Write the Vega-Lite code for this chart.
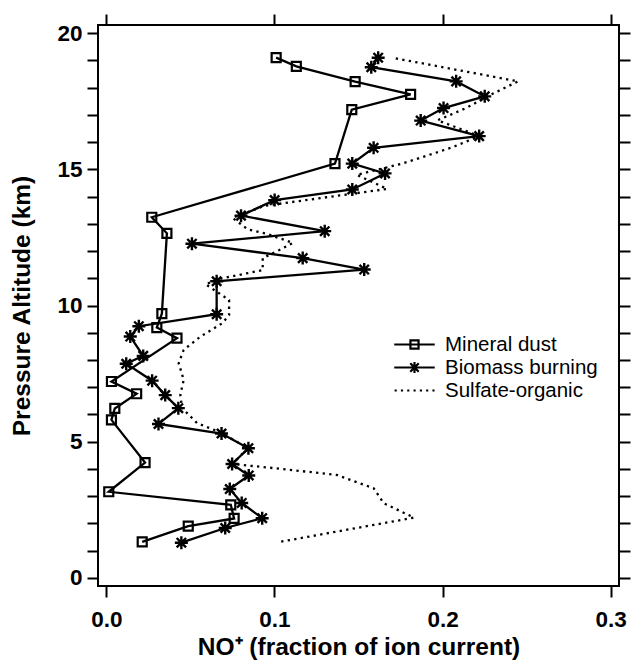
{
  "$schema": "https://vega.github.io/schema/vega-lite/v6.json",
  "autosize": {"type": "none"},
  "padding": {"left": 98, "top": 25, "right": 13, "bottom": 79},
  "width": 521,
  "height": 561,
  "background": "white",
  "config": {
    "view": {"stroke": "black", "strokeWidth": 2},
    "font": "Liberation Sans",
    "axis": {
      "domain": false, "grid": false,
      "tickColor": "black", "tickWidth": 2, "tickSize": 11,
      "labelColor": "black", "labelFont": "Liberation Sans", "labelFontWeight": "bold", "labelFontSize": 22.5,
      "titleColor": "black", "titleFont": "Liberation Sans", "titleFontWeight": "bold", "titleFontSize": 24.5
    },
    "legend": {
      "orient": "none", "legendX": 306, "legendY": 309, "padding": 0,
      "labelFont": "Liberation Sans", "labelFontSize": 20.5, "labelColor": "black", "labelFontWeight": "normal",
      "symbolSize": 324, "symbolStrokeWidth": 2.2, "symbolStrokeColor": "black", "symbolFillColor": "transparent",
      "labelOffset": 20, "rowPadding": 2
    }
  },
  "datasets": {
    "profiles": [
      {"series": "Mineral dust", "no": 0.101, "alt": 19.1},
      {"series": "Mineral dust", "no": 0.113, "alt": 18.78},
      {"series": "Mineral dust", "no": 0.148, "alt": 18.22},
      {"series": "Mineral dust", "no": 0.181, "alt": 17.75},
      {"series": "Mineral dust", "no": 0.146, "alt": 17.19},
      {"series": "Mineral dust", "no": 0.136, "alt": 15.21},
      {"series": "Mineral dust", "no": 0.027, "alt": 13.24},
      {"series": "Mineral dust", "no": 0.036, "alt": 12.65},
      {"series": "Mineral dust", "no": 0.033, "alt": 9.7},
      {"series": "Mineral dust", "no": 0.030, "alt": 9.19},
      {"series": "Mineral dust", "no": 0.042, "alt": 8.8},
      {"series": "Mineral dust", "no": 0.003, "alt": 7.21},
      {"series": "Mineral dust", "no": 0.018, "alt": 6.76},
      {"series": "Mineral dust", "no": 0.005, "alt": 6.22},
      {"series": "Mineral dust", "no": 0.003, "alt": 5.8},
      {"series": "Mineral dust", "no": 0.023, "alt": 4.23},
      {"series": "Mineral dust", "no": 0.0014, "alt": 3.16},
      {"series": "Mineral dust", "no": 0.074, "alt": 2.68},
      {"series": "Mineral dust", "no": 0.076, "alt": 2.18},
      {"series": "Mineral dust", "no": 0.0487, "alt": 1.9},
      {"series": "Mineral dust", "no": 0.0213, "alt": 1.32},
      {"series": "Biomass burning", "no": 0.1617, "alt": 19.1},
      {"series": "Biomass burning", "no": 0.1576, "alt": 18.75},
      {"series": "Biomass burning", "no": 0.2081, "alt": 18.23},
      {"series": "Biomass burning", "no": 0.2251, "alt": 17.68},
      {"series": "Biomass burning", "no": 0.2006, "alt": 17.25},
      {"series": "Biomass burning", "no": 0.187, "alt": 16.79},
      {"series": "Biomass burning", "no": 0.2218, "alt": 16.22},
      {"series": "Biomass burning", "no": 0.159, "alt": 15.79},
      {"series": "Biomass burning", "no": 0.1463, "alt": 15.21},
      {"series": "Biomass burning", "no": 0.1658, "alt": 14.85},
      {"series": "Biomass burning", "no": 0.1463, "alt": 14.26},
      {"series": "Biomass burning", "no": 0.1001, "alt": 13.87},
      {"series": "Biomass burning", "no": 0.0801, "alt": 13.3},
      {"series": "Biomass burning", "no": 0.1299, "alt": 12.73},
      {"series": "Biomass burning", "no": 0.0509, "alt": 12.27},
      {"series": "Biomass burning", "no": 0.1168, "alt": 11.74},
      {"series": "Biomass burning", "no": 0.1534, "alt": 11.32},
      {"series": "Biomass burning", "no": 0.0656, "alt": 10.89},
      {"series": "Biomass burning", "no": 0.0656, "alt": 9.68},
      {"series": "Biomass burning", "no": 0.0193, "alt": 9.24},
      {"series": "Biomass burning", "no": 0.0142, "alt": 8.86},
      {"series": "Biomass burning", "no": 0.0219, "alt": 8.15},
      {"series": "Biomass burning", "no": 0.0118, "alt": 7.86},
      {"series": "Biomass burning", "no": 0.0272, "alt": 7.24},
      {"series": "Biomass burning", "no": 0.035, "alt": 6.71},
      {"series": "Biomass burning", "no": 0.0428, "alt": 6.23},
      {"series": "Biomass burning", "no": 0.031, "alt": 5.65},
      {"series": "Biomass burning", "no": 0.0685, "alt": 5.3},
      {"series": "Biomass burning", "no": 0.0845, "alt": 4.76},
      {"series": "Biomass burning", "no": 0.0748, "alt": 4.18},
      {"series": "Biomass burning", "no": 0.0847, "alt": 3.76},
      {"series": "Biomass burning", "no": 0.0734, "alt": 3.26},
      {"series": "Biomass burning", "no": 0.0805, "alt": 2.75},
      {"series": "Biomass burning", "no": 0.0927, "alt": 2.19},
      {"series": "Biomass burning", "no": 0.0707, "alt": 1.83},
      {"series": "Biomass burning", "no": 0.0446, "alt": 1.29},
      {"series": "Sulfate-organic", "no": 0.170, "alt": 19.1},
      {"series": "Sulfate-organic", "no": 0.245, "alt": 18.23},
      {"series": "Sulfate-organic", "no": 0.229, "alt": 17.75},
      {"series": "Sulfate-organic", "no": 0.214, "alt": 17.25},
      {"series": "Sulfate-organic", "no": 0.197, "alt": 16.8},
      {"series": "Sulfate-organic", "no": 0.222, "alt": 16.22},
      {"series": "Sulfate-organic", "no": 0.205, "alt": 15.79},
      {"series": "Sulfate-organic", "no": 0.176, "alt": 15.21},
      {"series": "Sulfate-organic", "no": 0.149, "alt": 14.8},
      {"series": "Sulfate-organic", "no": 0.167, "alt": 14.28},
      {"series": "Sulfate-organic", "no": 0.094, "alt": 13.66},
      {"series": "Sulfate-organic", "no": 0.075, "alt": 13.22},
      {"series": "Sulfate-organic", "no": 0.084, "alt": 12.8},
      {"series": "Sulfate-organic", "no": 0.095, "alt": 12.64},
      {"series": "Sulfate-organic", "no": 0.111, "alt": 12.3},
      {"series": "Sulfate-organic", "no": 0.103, "alt": 12.04},
      {"series": "Sulfate-organic", "no": 0.093, "alt": 11.74},
      {"series": "Sulfate-organic", "no": 0.093, "alt": 11.3},
      {"series": "Sulfate-organic", "no": 0.069, "alt": 11.0},
      {"series": "Sulfate-organic", "no": 0.059, "alt": 10.78},
      {"series": "Sulfate-organic", "no": 0.067, "alt": 10.45},
      {"series": "Sulfate-organic", "no": 0.073, "alt": 10.2},
      {"series": "Sulfate-organic", "no": 0.073, "alt": 9.65},
      {"series": "Sulfate-organic", "no": 0.069, "alt": 9.35},
      {"series": "Sulfate-organic", "no": 0.056, "alt": 8.86},
      {"series": "Sulfate-organic", "no": 0.046, "alt": 8.37},
      {"series": "Sulfate-organic", "no": 0.043, "alt": 7.88},
      {"series": "Sulfate-organic", "no": 0.046, "alt": 7.27},
      {"series": "Sulfate-organic", "no": 0.044, "alt": 6.72},
      {"series": "Sulfate-organic", "no": 0.045, "alt": 6.23},
      {"series": "Sulfate-organic", "no": 0.054, "alt": 5.68},
      {"series": "Sulfate-organic", "no": 0.069, "alt": 5.31},
      {"series": "Sulfate-organic", "no": 0.084, "alt": 4.76},
      {"series": "Sulfate-organic", "no": 0.075, "alt": 4.18},
      {"series": "Sulfate-organic", "no": 0.101, "alt": 4.02},
      {"series": "Sulfate-organic", "no": 0.137, "alt": 3.78},
      {"series": "Sulfate-organic", "no": 0.159, "alt": 3.29},
      {"series": "Sulfate-organic", "no": 0.165, "alt": 2.74},
      {"series": "Sulfate-organic", "no": 0.183, "alt": 2.21},
      {"series": "Sulfate-organic", "no": 0.104, "alt": 1.33}
    ]
  },
  "data": {"name": "profiles"},
  "resolve": {"axis": {"x": "independent", "y": "independent"}},
  "layer": [
    {
      "transform": [{"filter": "datum.series === 'Sulfate-organic'"}],
      "mark": {"type": "line", "color": "black", "strokeWidth": 2.3, "strokeDash": [2.3, 4.3]},
      "encoding": {
        "x": {"field": "no", "type": "quantitative", "scale": {"domain": [-0.005, 0.305], "nice": false, "zero": false},
              "axis": {"orient": "bottom", "values": [0, 0.1, 0.2, 0.3], "format": ".1f", "labelPadding": 11, "title": "NO⁺ (fraction of ion current)", "titlePadding": 5}},
        "y": {"field": "alt", "type": "quantitative", "scale": {"domain": [-0.3, 20.3], "nice": false, "zero": false},
              "axis": {"orient": "left", "values": [0,1,2,3,4,5,6,7,8,9,10,11,12,13,14,15,16,17,18,19,20], "labelExpr": "datum.value % 5 === 0 ? datum.label : ''", "labelPadding": 5, "title": "Pressure Altitude (km)", "titlePadding": 22}},
        "order": {"field": "alt", "type": "quantitative"}
      }
    },
    {
      "transform": [{"filter": "datum.series === 'Mineral dust'"}],
      "mark": {"type": "line", "color": "black", "strokeWidth": 2.3},
      "encoding": {
        "x": {"field": "no", "type": "quantitative",
              "axis": {"orient": "top", "values": [0, 0.1, 0.2, 0.3], "labels": false, "title": null}},
        "y": {"field": "alt", "type": "quantitative",
              "axis": {"orient": "right", "values": [0,1,2,3,4,5,6,7,8,9,10,11,12,13,14,15,16,17,18,19,20], "labels": false, "title": null}},
        "order": {"field": "alt", "type": "quantitative"}
      }
    },
    {
      "transform": [{"filter": "datum.series === 'Biomass burning'"}],
      "mark": {"type": "line", "color": "black", "strokeWidth": 2.3},
      "encoding": {
        "x": {"field": "no", "type": "quantitative", "axis": null},
        "y": {"field": "alt", "type": "quantitative", "axis": null},
        "order": {"field": "alt", "type": "quantitative"}
      }
    },
    {
      "transform": [{"filter": "datum.series === 'Mineral dust'"}],
      "mark": {"type": "point", "shape": "square", "size": 81, "filled": false, "color": "black", "strokeWidth": 2.2, "opacity": 1},
      "encoding": {
        "x": {"field": "no", "type": "quantitative", "axis": null},
        "y": {"field": "alt", "type": "quantitative", "axis": null}
      }
    },
    {
      "transform": [{"filter": "datum.series === 'Biomass burning'"}],
      "mark": {"type": "point", "shape": "M-1,0H1M0,-1V1M-0.72,-0.72L0.72,0.72M-0.72,0.72L0.72,-0.72", "size": 169, "filled": false, "color": "black", "strokeWidth": 2.4, "opacity": 1},
      "encoding": {
        "x": {"field": "no", "type": "quantitative", "axis": null},
        "y": {"field": "alt", "type": "quantitative", "axis": null}
      }
    },
    {
      "transform": [{"filter": "false"}],
      "mark": {"type": "point", "size": 324, "filled": false, "color": "black", "strokeWidth": 2.2, "opacity": 1},
      "encoding": {
        "x": {"field": "no", "type": "quantitative", "axis": null},
        "y": {"field": "alt", "type": "quantitative", "axis": null},
        "shape": {"field": "series", "type": "nominal",
          "scale": {"domain": ["Mineral dust", "Biomass burning", "Sulfate-organic"],
                    "range": ["M-2.25,0H2.25M-0.45,-0.45H0.45V0.45H-0.45Z",
                              "M-2.25,0H2.25M0,-0.62V0.62M-0.47,-0.47L0.47,0.47M-0.47,0.47L0.47,-0.47",
                              "M-2.21,0h0.24M-1.51,0h0.24M-0.81,0h0.24M-0.11,0h0.24M0.59,0h0.24M1.29,0h0.24M1.99,0h0.24"]},
          "legend": {"title": null}}
      }
    }
  ]
}
